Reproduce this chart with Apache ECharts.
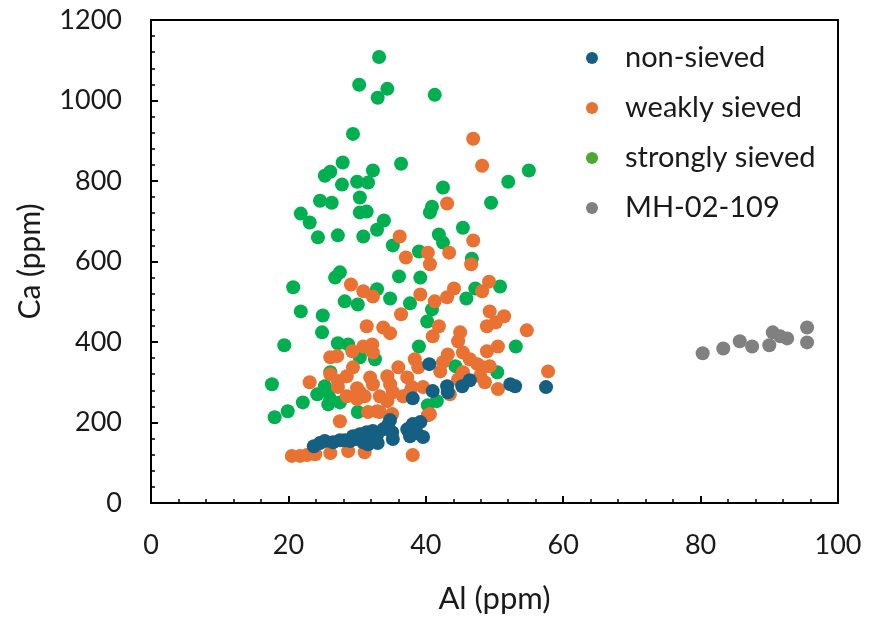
<!DOCTYPE html>
<html>
<head>
<meta charset="utf-8">
<script src="https://cdn.jsdelivr.net/npm/echarts@6/dist/echarts.min.js"></script>
<style>
html,body{margin:0;padding:0;background:#fff;}
#chart{width:869px;height:619px;}
</style>
</head>
<body>
<div id="chart"></div>
<script>
// Al (ppm), Ca (ppm) pairs
const nonSieved = [[23.7,141],[24.6,149],[25.3,154],[26.5,151],[27.5,156],[28.2,156],[29.0,154],[29.4,166],[30.0,159],[30.4,171],[30.9,151],[31.4,176],[31.6,146],[31.9,161],[32.3,179],[32.9,169],[33.0,149],[33.8,183],[34.5,193],[34.8,206],[35.1,176],[35.2,159],[37.3,183],[37.7,166],[38.1,196],[38.7,174],[39.2,201],[39.6,164],[38.1,260],[40.5,345],[41.0,278],[43.1,290],[43.2,275],[45.3,290],[46.4,305],[52.3,295],[53.0,290],[57.5,288]];

const weaklySieved = [[46.9,905],[48.2,838],[43.1,744],[36.2,662],[46.9,652],[40.3,622],[40.6,593],[37.1,610],[43.4,622],[46.6,593],[44.1,533],[49.2,550],[48.2,526],[43.1,511],[41.3,501],[39.2,518],[36.4,469],[29.1,543],[30.9,526],[32.3,513],[49.3,476],[51.4,464],[50.2,449],[48.9,439],[41.9,439],[41.0,414],[45.0,424],[44.7,402],[54.7,429],[33.8,436],[34.8,422],[31.4,439],[50.5,389],[48.9,377],[57.8,327],[43.2,369],[42.5,350],[42.1,327],[45.4,374],[46.4,357],[47.5,345],[48.3,337],[49.3,340],[47.9,315],[48.6,300],[50.5,283],[45.4,325],[44.7,307],[43.5,270],[40.6,221],[26.1,362],[27.1,365],[29.3,377],[30.9,389],[32.2,394],[32.3,374],[38.4,357],[38.9,337],[36.0,337],[26.1,320],[29.4,337],[28.5,315],[23.1,300],[27.2,288],[30.0,285],[31.9,312],[32.3,295],[34.4,315],[34.8,295],[37.3,312],[37.7,275],[39.6,288],[30.4,275],[31.1,265],[33.3,265],[34.4,253],[35.2,275],[31.6,226],[33.3,226],[35.1,221],[27.5,203],[40.3,218],[20.5,117],[21.7,117],[22.7,119],[23.9,121],[26.1,124],[28.7,129],[31.1,126],[38.1,119],[28.5,265],[30.0,258],[36.7,265],[32.9,228],[27.2,303],[38.0,288]];

const stronglySieved = [[33.2,1108],[30.3,1039],[34.4,1029],[33.0,1007],[41.3,1014],[29.4,917],[27.9,846],[26.1,823],[25.3,813],[32.3,826],[30.0,798],[31.6,796],[27.8,791],[36.4,843],[24.6,751],[26.3,746],[30.4,759],[30.4,722],[31.4,724],[21.8,719],[23.1,697],[33.9,702],[32.9,679],[24.3,660],[27.2,665],[30.9,662],[35.2,640],[42.5,784],[40.9,736],[40.6,722],[41.9,667],[42.5,647],[39.0,625],[45.4,684],[49.5,746],[52.0,798],[55.0,826],[46.7,607],[47.2,533],[50.8,538],[45.9,508],[36.1,563],[39.2,560],[27.5,573],[26.8,560],[20.7,536],[32.9,531],[28.2,501],[30.1,493],[34.8,508],[37.7,496],[40.9,481],[40.2,451],[21.8,476],[25.0,466],[24.9,424],[19.4,392],[27.2,397],[28.7,394],[30.4,362],[32.6,357],[39.0,389],[53.1,389],[50.4,325],[44.3,340],[17.6,295],[24.2,270],[25.8,278],[25.3,290],[22.1,250],[25.8,245],[19.9,228],[18.0,213],[30.1,226],[40.3,243],[41.6,253],[26.1,325],[26.1,258],[27.5,250]];

const mh02109 = [[80.3,372],[83.3,384],[85.7,402],[87.5,389],[90.0,392],[90.5,424],[91.6,414],[92.6,409],[95.5,436],[95.5,399]];

const seriesNames = ['non-sieved','weakly sieved','strongly sieved','MH-02-109'];
const xTitle = 'Al (ppm)';
const yTitle = 'Ca (ppm)';

const FONT = 'Lato';
const TXT = '#1a1a1a';
const colors = ['#156082','#E97132','#00B050','#808080'];
const legendColors = ['#156082','#E97132','#4EA72E','#808080'];

const chart = echarts.init(document.getElementById('chart'), null, {renderer:'canvas'});
const datasets = [nonSieved, weaklySieved, stronglySieved, mh02109];
const zs = [5,4,3,2];

chart.setOption({
  animation:false,
  backgroundColor:'#fff',
  grid:{left:151,top:20,right:31,bottom:115,show:true,borderColor:'#000',borderWidth:2,backgroundColor:'transparent'},
  legend:{
    orient:'vertical', left:581, top:37,
    itemWidth:56, itemHeight:12, itemGap:18,
    textStyle:{fontFamily:FONT,fontSize:29,color:TXT,lineHeight:32},
    data: seriesNames.map((n,i)=>({name:n,icon:'circle',itemStyle:{color:legendColors[i]}}))
  },
  xAxis:{
    type:'value', min:0, max:100, interval:20,
    name:xTitle, nameLocation:'middle', nameGap:80,
    nameTextStyle:{fontFamily:FONT,fontSize:31,color:TXT},
    axisLine:{show:true,onZero:false,lineStyle:{color:'#000',width:2}},
    axisTick:{show:true,inside:true,length:7,lineStyle:{color:'#000',width:2}},
    minorTick:{show:true,splitNumber:5,length:4,lineStyle:{color:'#000',width:1.5}},
    splitLine:{show:false},
    axisLabel:{fontFamily:FONT,fontSize:27,color:TXT,margin:29,formatter:v=>String(v)}
  },
  yAxis:{
    type:'value', min:0, max:1200, interval:200,
    name:yTitle, nameLocation:'middle', nameGap:106,
    nameTextStyle:{fontFamily:FONT,fontSize:30,color:TXT},
    axisLine:{show:true,onZero:false,lineStyle:{color:'#000',width:2}},
    axisTick:{show:true,inside:true,length:7,lineStyle:{color:'#000',width:2}},
    minorTick:{show:true,splitNumber:5,length:4,lineStyle:{color:'#000',width:1.5}},
    splitLine:{show:false},
    axisLabel:{fontFamily:FONT,fontSize:27,color:TXT,margin:29,formatter:v=>String(v)}
  },
  series: seriesNames.map((n,i)=>({
    name:n, type:'scatter', data:datasets[i], symbol:'circle', symbolSize:14, z:zs[i],
    itemStyle:{color:colors[i],opacity:1},
    emphasis:{disabled:true}
  }))
});
</script>
</body>
</html>
